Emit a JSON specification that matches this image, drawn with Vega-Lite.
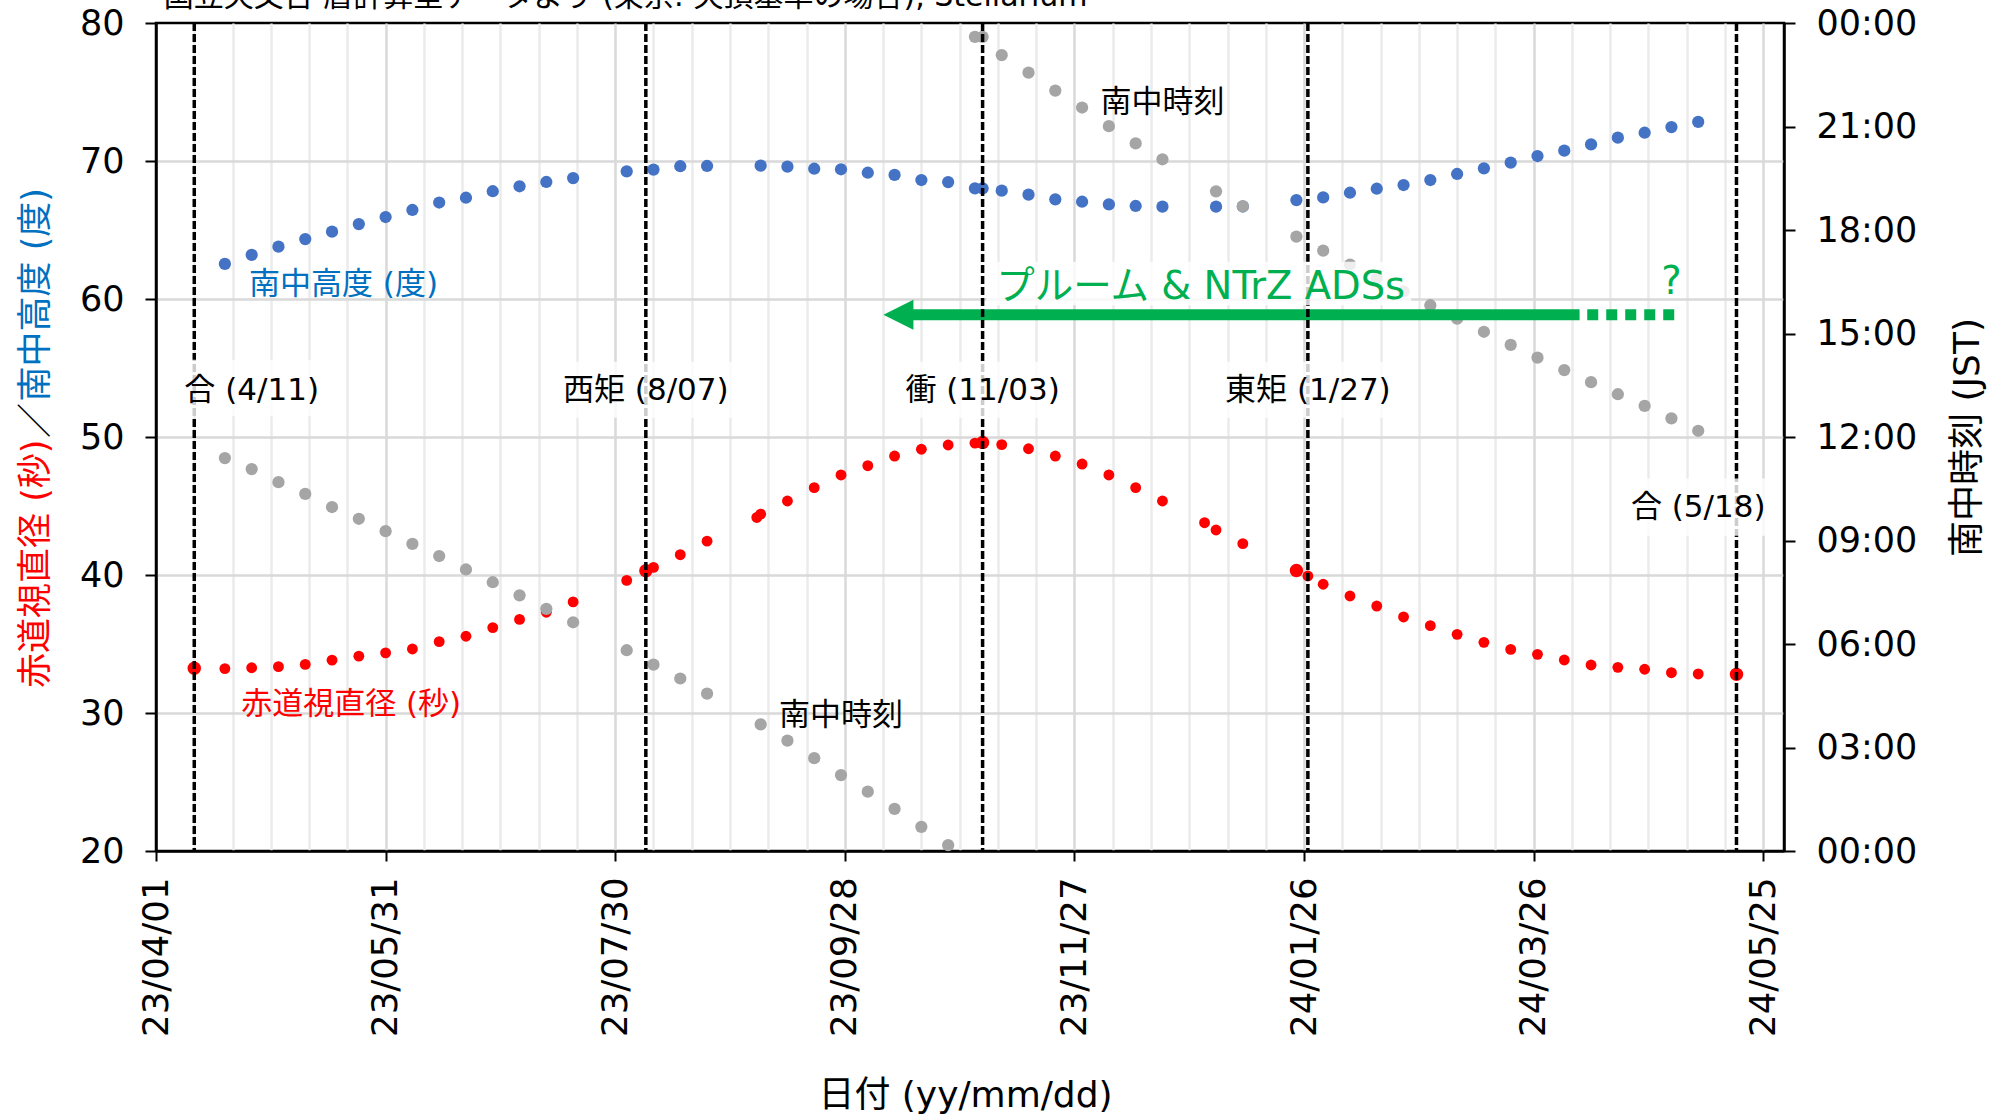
{
  "$schema": "https://vega.github.io/schema/vega-lite/v6.json",
  "width": 1628,
  "height": 828,
  "autosize": {"type": "none"},
  "padding": {"left": 156, "top": 23, "right": 216, "bottom": 265},
  "background": "white",
  "config": {
    "view": {"stroke": "black", "strokeWidth": 2.5},
    "font": "DejaVu Sans, Noto Sans CJK JP",
    "axis": {"labelFont": "DejaVu Sans, Noto Sans CJK JP", "titleFont": "DejaVu Sans, Noto Sans CJK JP", "labelColor": "black", "titleColor": "black", "titleFontWeight": "normal", "tickColor": "black", "domainColor": "black"}
  },
  "datasets": {
    "eph": [
      {"date": "2023-04-11", "diam": 33.25, "emph": true},
      {"date": "2023-04-19", "alt": 62.54, "diam": 33.22, "transit": 11.39},
      {"date": "2023-04-26", "alt": 63.20, "diam": 33.28, "transit": 11.07},
      {"date": "2023-05-03", "alt": 63.79, "diam": 33.36, "transit": 10.69},
      {"date": "2023-05-10", "alt": 64.34, "diam": 33.52, "transit": 10.35},
      {"date": "2023-05-17", "alt": 64.88, "diam": 33.83, "transit": 9.97},
      {"date": "2023-05-24", "alt": 65.43, "diam": 34.12, "transit": 9.63},
      {"date": "2023-05-31", "alt": 65.94, "diam": 34.36, "transit": 9.27},
      {"date": "2023-06-07", "alt": 66.45, "diam": 34.64, "transit": 8.90},
      {"date": "2023-06-14", "alt": 66.99, "diam": 35.17, "transit": 8.55},
      {"date": "2023-06-21", "alt": 67.34, "diam": 35.56, "transit": 8.16},
      {"date": "2023-06-28", "alt": 67.81, "diam": 36.19, "transit": 7.79},
      {"date": "2023-07-05", "alt": 68.17, "diam": 36.78, "transit": 7.41},
      {"date": "2023-07-12", "alt": 68.48, "diam": 37.30, "transit": 7.02},
      {"date": "2023-07-19", "alt": 68.76, "diam": 38.05, "transit": 6.63},
      {"date": "2023-08-02", "alt": 69.25, "diam": 39.61, "transit": 5.82},
      {"date": "2023-08-07", "diam": 40.31, "emph": true},
      {"date": "2023-08-09", "alt": 69.38, "diam": 40.55, "transit": 5.40},
      {"date": "2023-08-16", "alt": 69.62, "diam": 41.47, "transit": 5.00},
      {"date": "2023-08-23", "alt": 69.64, "diam": 42.45, "transit": 4.56},
      {"date": "2023-09-05", "diam": 44.17},
      {"date": "2023-09-06", "alt": 69.66, "diam": 44.41, "transit": 3.67},
      {"date": "2023-09-13", "alt": 69.59, "diam": 45.36, "transit": 3.20},
      {"date": "2023-09-20", "alt": 69.44, "diam": 46.33, "transit": 2.69},
      {"date": "2023-09-27", "alt": 69.40, "diam": 47.25, "transit": 2.20},
      {"date": "2023-10-04", "alt": 69.15, "diam": 47.92, "transit": 1.72},
      {"date": "2023-10-11", "alt": 68.99, "diam": 48.62, "transit": 1.22},
      {"date": "2023-10-18", "alt": 68.62, "diam": 49.11, "transit": 0.70},
      {"date": "2023-10-25", "alt": 68.47, "diam": 49.42, "transit": 0.17},
      {"date": "2023-11-01", "alt": 68.02, "diam": 49.56, "transit": 23.60},
      {"date": "2023-11-03", "alt": 68.02, "diam": 49.61, "transit": 23.60, "emph": true},
      {"date": "2023-11-08", "alt": 67.85, "diam": 49.45, "transit": 23.07},
      {"date": "2023-11-15", "alt": 67.56, "diam": 49.15, "transit": 22.56},
      {"date": "2023-11-22", "alt": 67.22, "diam": 48.62, "transit": 22.04},
      {"date": "2023-11-29", "alt": 67.05, "diam": 48.04, "transit": 21.55},
      {"date": "2023-12-06", "alt": 66.86, "diam": 47.25, "transit": 21.01},
      {"date": "2023-12-13", "alt": 66.74, "diam": 46.33, "transit": 20.51},
      {"date": "2023-12-20", "alt": 66.69, "diam": 45.36, "transit": 20.05},
      {"date": "2023-12-31", "diam": 43.79},
      {"date": "2024-01-03", "alt": 66.69, "diam": 43.26, "transit": 19.12},
      {"date": "2024-01-10", "alt": 66.70, "diam": 42.27, "transit": 18.69},
      {"date": "2024-01-24", "alt": 67.17, "diam": 40.33, "transit": 17.81, "emph": true},
      {"date": "2024-01-27", "diam": 39.93},
      {"date": "2024-01-31", "alt": 67.36, "diam": 39.33, "transit": 17.40},
      {"date": "2024-02-07", "alt": 67.70, "diam": 38.48, "transit": 17.00},
      {"date": "2024-02-14", "alt": 67.99, "diam": 37.75, "transit": 16.61},
      {"date": "2024-02-21", "alt": 68.26, "diam": 36.96, "transit": 16.22},
      {"date": "2024-02-28", "alt": 68.62, "diam": 36.33, "transit": 15.82},
      {"date": "2024-03-06", "alt": 69.06, "diam": 35.70, "transit": 15.43},
      {"date": "2024-03-13", "alt": 69.47, "diam": 35.12, "transit": 15.05},
      {"date": "2024-03-20", "alt": 69.88, "diam": 34.61, "transit": 14.67},
      {"date": "2024-03-27", "alt": 70.36, "diam": 34.25, "transit": 14.30},
      {"date": "2024-04-03", "alt": 70.75, "diam": 33.84, "transit": 13.94},
      {"date": "2024-04-10", "alt": 71.21, "diam": 33.48, "transit": 13.59},
      {"date": "2024-04-17", "alt": 71.69, "diam": 33.31, "transit": 13.24},
      {"date": "2024-04-24", "alt": 72.05, "diam": 33.17, "transit": 12.90},
      {"date": "2024-05-01", "alt": 72.46, "diam": 32.92, "transit": 12.54},
      {"date": "2024-05-08", "alt": 72.83, "diam": 32.83, "transit": 12.18},
      {"date": "2024-05-18", "diam": 32.80, "emph": true}
    ],
    "events": [
      {"date": "2023-04-11", "label": "合 (4/11)", "lx": "2023-04-26", "ly": 53.3},
      {"date": "2023-08-07", "label": "西矩 (8/07)", "lx": "2023-08-07", "ly": 53.3},
      {"date": "2023-11-03", "label": "衝 (11/03)", "lx": "2023-11-03", "ly": 53.3},
      {"date": "2024-01-27", "label": "東矩 (1/27)", "lx": "2024-01-27", "ly": 53.3},
      {"date": "2024-05-18", "label": "合 (5/18)", "lx": "2024-05-08", "ly": 44.88}
    ],
    "boxes": [
      {"x0": "2023-04-06", "x1": "2023-05-15", "y0": 51.5, "y1": 55.6},
      {"x0": "2023-07-14", "x1": "2023-08-31", "y0": 51.4, "y1": 55.45},
      {"x0": "2023-10-11", "x1": "2023-11-25", "y0": 51.4, "y1": 55.45},
      {"x0": "2024-01-03", "x1": "2024-02-20", "y0": 51.4, "y1": 55.45},
      {"x0": "2024-04-18", "x1": "2024-05-28", "y0": 42.85, "y1": 47.0},
      {"x0": "2023-11-04", "x1": "2024-02-23", "y0": 59.55, "y1": 62.7}
    ],
    "labels": [
      {"lx": "2023-05-20", "ly": 61.05, "label": "南中高度 (度)", "kind": "alt"},
      {"lx": "2023-05-22", "ly": 30.6, "label": "赤道視直径 (秒)", "kind": "diam"},
      {"lx": "2023-12-20", "ly": 74.2, "label": "南中時刻", "kind": "transit"},
      {"lx": "2023-09-27", "ly": 29.8, "label": "南中時刻", "kind": "transit"}
    ],
    "green": [
      {"lx": "2023-12-30", "ly": 60.85, "label": "プルーム & NTrZ ADSs"},
      {"lx": "2024-05-01", "ly": 61.25, "label": "?"}
    ],
    "heading": [
      {"lx": "2023-04-03", "ly": 81.2, "label": "国立天文台 暦計算室データより (東京: 天頂基準の場合), Stellarium"}
    ],
    "arrow": [
      {"x0": "2023-10-12", "x1": "2024-04-07", "y": 58.85, "status": "confirmed"},
      {"x0": "2024-04-09", "x1": "2024-05-02", "y": 58.85, "status": "uncertain"}
    ]
  },
  "layer": [
    {
      "data": {"name": "eph"},
      "transform": [{"filter": "datum.alt != null"}],
      "mark": {"type": "circle", "size": 150, "color": "#4472C4", "opacity": 1},
      "encoding": {
        "x": {"field": "date", "type": "temporal",
          "scale": {"type": "utc", "domain": [{"year": 2023, "month": 4, "date": 1, "utc": true}, {"year": 2024, "month": 5, "date": 30, "hours": 10, "utc": true}], "nice": false},
          "axis": {"orient": "bottom", "values": [
            {"year": 2023, "month": 4, "date": 1, "utc": true},
            {"year": 2023, "month": 5, "date": 31, "utc": true},
            {"year": 2023, "month": 7, "date": 30, "utc": true},
            {"year": 2023, "month": 9, "date": 28, "utc": true},
            {"year": 2023, "month": 11, "date": 27, "utc": true},
            {"year": 2024, "month": 1, "date": 26, "utc": true},
            {"year": 2024, "month": 3, "date": 26, "utc": true},
            {"year": 2024, "month": 5, "date": 25, "utc": true}],
            "format": "%y/%m/%d", "labelAngle": 270, "labelFontSize": 35.5, "labelPadding": 16, "labelFlush": false, "labelOverlap": false,
            "grid": false, "tickSize": 10, "tickWidth": 2, "domainWidth": 2.5,
            "title": "日付 (yy/mm/dd)", "titleFontSize": 36, "titleX": 809, "titleY": 244, "titleAlign": "center", "titleBaseline": "middle"}},
        "y": {"field": "alt", "type": "quantitative",
          "scale": {"domain": [20, 80], "nice": false, "zero": false},
          "axis": {"orient": "left", "values": [20, 30, 40, 50, 60, 70, 80], "grid": false, "labelFontSize": 35, "labelPadding": 21, "labelFlush": false, "labelOverlap": false,
            "tickSize": 11, "tickWidth": 2, "domainWidth": 2.5,
            "title": "南中高度 (度)", "titleColor": "#0070C0", "titleFontSize": 35, "titleX": -121, "titleY": 378, "titleAngle": 270, "titleAlign": "left", "titleBaseline": "middle"}}
      }
    },
    {
      "data": {"name": "eph"},
      "transform": [{"filter": "datum.diam != null"}],
      "mark": {"type": "circle", "color": "#FF0000", "opacity": 1},
      "encoding": {
        "x": {"field": "date", "type": "temporal",
          "scale": {"type": "utc", "domain": [{"year": 2023, "month": 4, "date": 1, "utc": true}, {"year": 2024, "month": 5, "date": 30, "hours": 10, "utc": true}], "nice": false},
          "axis": {"orient": "bottom", "values": [
            {"year": 2023, "month": 4, "date": 11, "utc": true}, {"year": 2023, "month": 4, "date": 21, "utc": true},
            {"year": 2023, "month": 5, "date": 1, "utc": true}, {"year": 2023, "month": 5, "date": 11, "utc": true},
            {"year": 2023, "month": 5, "date": 21, "utc": true}, {"year": 2023, "month": 6, "date": 10, "utc": true},
            {"year": 2023, "month": 6, "date": 20, "utc": true}, {"year": 2023, "month": 6, "date": 30, "utc": true},
            {"year": 2023, "month": 7, "date": 10, "utc": true}, {"year": 2023, "month": 7, "date": 20, "utc": true},
            {"year": 2023, "month": 8, "date": 9, "utc": true}, {"year": 2023, "month": 8, "date": 19, "utc": true},
            {"year": 2023, "month": 8, "date": 29, "utc": true}, {"year": 2023, "month": 9, "date": 8, "utc": true},
            {"year": 2023, "month": 9, "date": 18, "utc": true}, {"year": 2023, "month": 10, "date": 8, "utc": true},
            {"year": 2023, "month": 10, "date": 18, "utc": true}, {"year": 2023, "month": 10, "date": 28, "utc": true},
            {"year": 2023, "month": 11, "date": 7, "utc": true}, {"year": 2023, "month": 11, "date": 17, "utc": true},
            {"year": 2023, "month": 12, "date": 7, "utc": true}, {"year": 2023, "month": 12, "date": 17, "utc": true},
            {"year": 2023, "month": 12, "date": 27, "utc": true}, {"year": 2024, "month": 1, "date": 6, "utc": true},
            {"year": 2024, "month": 1, "date": 16, "utc": true}, {"year": 2024, "month": 2, "date": 5, "utc": true},
            {"year": 2024, "month": 2, "date": 15, "utc": true}, {"year": 2024, "month": 2, "date": 25, "utc": true},
            {"year": 2024, "month": 3, "date": 6, "utc": true}, {"year": 2024, "month": 3, "date": 16, "utc": true},
            {"year": 2024, "month": 4, "date": 5, "utc": true}, {"year": 2024, "month": 4, "date": 15, "utc": true},
            {"year": 2024, "month": 4, "date": 25, "utc": true}, {"year": 2024, "month": 5, "date": 5, "utc": true},
            {"year": 2024, "month": 5, "date": 15, "utc": true}],
            "grid": true, "gridColor": "#EBEBEB", "gridWidth": 2.5, "labels": false, "ticks": false, "domain": false, "title": null}},
        "y": {"field": "diam", "type": "quantitative",
          "scale": {"domain": [20, 80], "nice": false, "zero": false},
          "axis": {"orient": "left", "grid": false, "labels": false, "ticks": false, "domain": false,
            "title": "赤道視直径 (秒)", "titleColor": "#FF0000", "titleFontSize": 35, "titleX": -121, "titleY": 416, "titleAngle": 270, "titleAlign": "right", "titleBaseline": "middle"}},
        "size": {"condition": {"test": "datum.emph", "value": 180}, "value": 118}
      }
    },
    {
      "data": {"name": "eph"},
      "transform": [{"filter": "datum.transit != null"}],
      "mark": {"type": "circle", "size": 150, "color": "#A5A5A5", "opacity": 1},
      "encoding": {
        "x": {"field": "date", "type": "temporal",
          "scale": {"type": "utc", "domain": [{"year": 2023, "month": 4, "date": 1, "utc": true}, {"year": 2024, "month": 5, "date": 30, "hours": 10, "utc": true}], "nice": false},
          "axis": null},
        "y": {"field": "transit", "type": "quantitative",
          "scale": {"domain": [0, 24], "nice": false, "zero": false},
          "axis": {"orient": "right", "values": [0, 3, 6, 9, 12, 15, 18, 21, 24],
            "labelExpr": "(datum.value % 24 < 10 ? '0' : '') + (datum.value % 24) + ':00'",
            "grid": false, "labelFontSize": 35, "labelPadding": 21, "labelFlush": false, "labelOverlap": false,
            "tickSize": 11, "tickWidth": 2, "domainWidth": 2.5,
            "title": "南中時刻 (JST)", "titleFontSize": 36, "titleX": 183, "titleY": 414, "titleAngle": 270, "titleAlign": "center", "titleBaseline": "middle"}}
      }
    },
    {
      "data": {"name": "arrow"},
      "transform": [{"filter": "datum.status == 'confirmed'"}],
      "mark": {"type": "rule", "color": "#00B050", "strokeWidth": 11, "strokeCap": "butt"},
      "encoding": {
        "x": {"field": "x0", "type": "temporal", "axis": null},
        "x2": {"field": "x1"},
        "y": {"field": "y", "type": "quantitative", "scale": {"domain": [20, 80], "nice": false, "zero": false}, "axis": null}
      }
    },
    {
      "data": {"name": "arrow"},
      "transform": [{"filter": "datum.status == 'uncertain'"}],
      "mark": {"type": "rule", "color": "#00B050", "strokeWidth": 11, "strokeCap": "butt", "strokeDash": [11, 8]},
      "encoding": {
        "x": {"field": "x0", "type": "temporal", "axis": null},
        "x2": {"field": "x1"},
        "y": {"field": "y", "type": "quantitative", "scale": {"domain": [20, 80], "nice": false, "zero": false}, "axis": null}
      }
    },
    {
      "data": {"name": "arrow"},
      "transform": [{"filter": "datum.status == 'confirmed'"}],
      "mark": {"type": "point", "shape": "M-1,0L1,-1L1,1Z", "size": 900, "filled": true, "color": "#00B050", "opacity": 1},
      "encoding": {
        "x": {"field": "x0", "type": "temporal", "axis": null},
        "y": {"field": "y", "type": "quantitative", "scale": {"domain": [20, 80], "nice": false, "zero": false}, "axis": null}
      }
    },
    {
      "data": {"name": "events"},
      "mark": {"type": "rule", "color": "black", "strokeWidth": 3.5, "strokeDash": [8, 3]},
      "encoding": {
        "x": {"field": "date", "type": "temporal",
          "axis": {"orient": "bottom", "values": [
            {"year": 2023, "month": 5, "date": 31, "utc": true},
            {"year": 2023, "month": 7, "date": 30, "utc": true},
            {"year": 2023, "month": 9, "date": 28, "utc": true},
            {"year": 2023, "month": 11, "date": 27, "utc": true},
            {"year": 2024, "month": 1, "date": 26, "utc": true},
            {"year": 2024, "month": 3, "date": 26, "utc": true},
            {"year": 2024, "month": 5, "date": 25, "utc": true}],
            "grid": true, "gridColor": "#D9D9D9", "gridWidth": 2.5, "labels": false, "ticks": false, "domain": false, "title": null}}
      }
    },
    {
      "data": {"name": "boxes"},
      "mark": {"type": "rect", "color": "white", "opacity": 0.8},
      "encoding": {
        "x": {"field": "x0", "type": "temporal", "axis": null},
        "x2": {"field": "x1"},
        "y": {"field": "y0", "type": "quantitative", "scale": {"domain": [20, 80], "nice": false, "zero": false},
          "axis": {"orient": "left", "values": [30, 40, 50, 60, 70], "grid": true, "gridColor": "#D9D9D9", "gridWidth": 2.5, "labels": false, "ticks": false, "domain": false, "title": null}},
        "y2": {"field": "y1"}
      }
    },
    {
      "data": {"name": "events"},
      "mark": {"type": "text", "fontSize": 31, "font": "DejaVu Sans, Noto Sans CJK JP", "color": "black", "align": "center", "baseline": "middle"},
      "encoding": {
        "x": {"field": "lx", "type": "temporal", "axis": null},
        "y": {"field": "ly", "type": "quantitative", "scale": {"domain": [20, 80], "nice": false, "zero": false},
          "axis": {"orient": "left", "labels": false, "ticks": false, "domain": false, "grid": false,
            "title": "／", "titleColor": "black", "titleFontSize": 35, "titleX": -121, "titleY": 397, "titleAngle": 270, "titleAlign": "center", "titleBaseline": "middle"}},
        "text": {"field": "label"}
      }
    },
    {
      "data": {"name": "labels"},
      "mark": {"type": "text", "fontSize": 31, "font": "DejaVu Sans, Noto Sans CJK JP", "align": "center", "baseline": "middle"},
      "encoding": {
        "x": {"field": "lx", "type": "temporal", "axis": null},
        "y": {"field": "ly", "type": "quantitative", "scale": {"domain": [20, 80], "nice": false, "zero": false}, "axis": null},
        "text": {"field": "label"},
        "color": {"field": "kind", "type": "nominal", "scale": {"domain": ["alt", "diam", "transit"], "range": ["#0070C0", "#FF0000", "black"]}, "legend": null}
      }
    },
    {
      "data": {"name": "green"},
      "mark": {"type": "text", "fontSize": 38.5, "font": "DejaVu Sans, Noto Sans CJK JP", "color": "#00B050", "align": "center", "baseline": "middle"},
      "encoding": {
        "x": {"field": "lx", "type": "temporal", "axis": null},
        "y": {"field": "ly", "type": "quantitative", "scale": {"domain": [20, 80], "nice": false, "zero": false}, "axis": null},
        "text": {"field": "label"}
      }
    },
    {
      "data": {"name": "heading"},
      "mark": {"type": "text", "fontSize": 30, "font": "DejaVu Sans, Noto Sans CJK JP", "color": "black", "align": "left", "baseline": "alphabetic"},
      "encoding": {
        "x": {"field": "lx", "type": "temporal", "axis": null},
        "y": {"field": "ly", "type": "quantitative", "scale": {"domain": [20, 80], "nice": false, "zero": false}, "axis": null},
        "text": {"field": "label"}
      }
    }
  ],
  "resolve": {"scale": {"y": "independent"}, "axis": {"x": "independent", "y": "independent"}}
}
